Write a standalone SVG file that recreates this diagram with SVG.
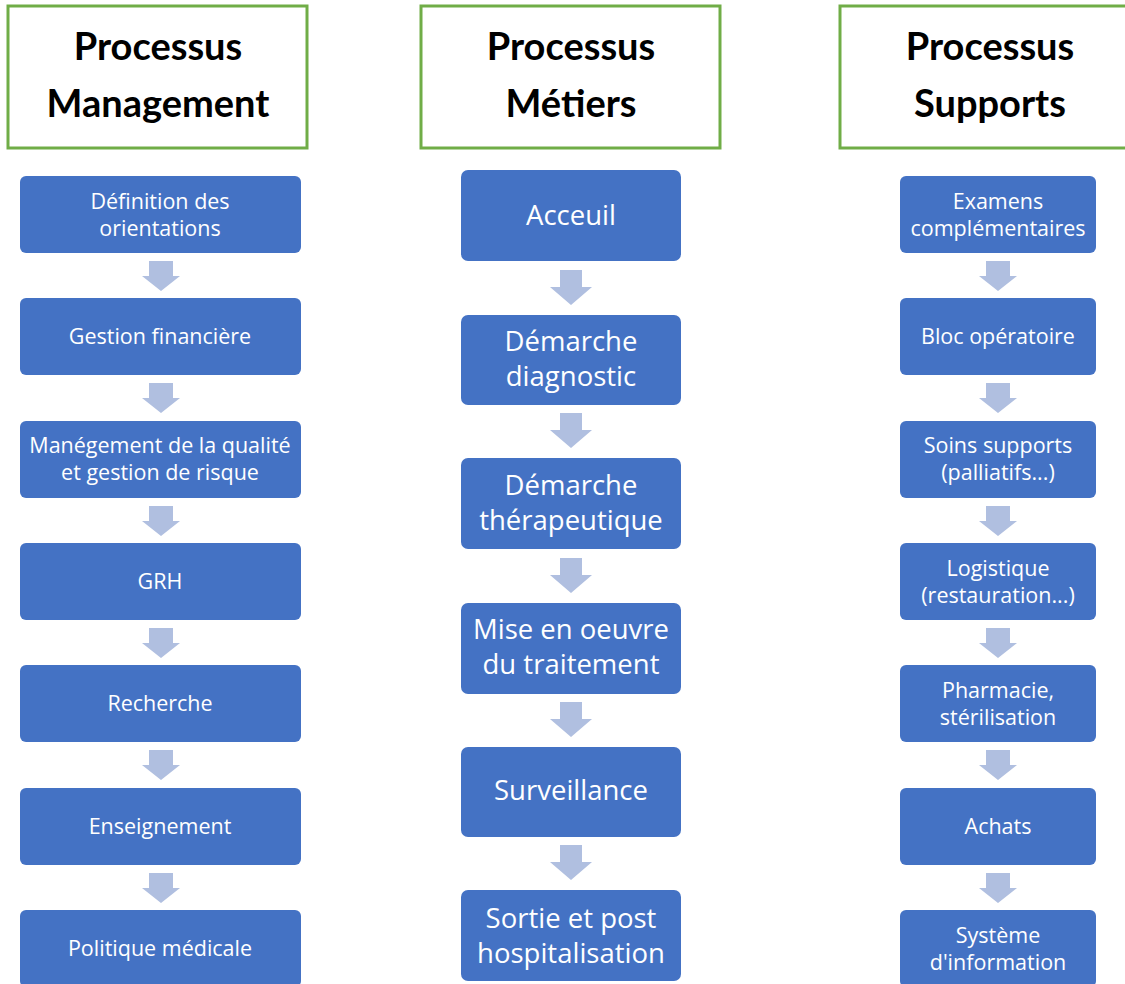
<svg xmlns="http://www.w3.org/2000/svg" width="1125" height="984" viewBox="0 0 1125 984">
<style>
.hdr{fill:#fff;stroke:#70AD47;stroke-width:3}
.ht{font-family:"Lato","Liberation Sans",sans-serif;font-weight:bold;font-size:38px;fill:#000;text-anchor:middle}
.box{fill:#4472C4}
.st{font-family:"Open Sans","Liberation Sans",sans-serif;font-size:21.5px;fill:#fff;text-anchor:middle}
.mt{font-family:"Open Sans","Liberation Sans",sans-serif;font-size:27.5px;fill:#fff;text-anchor:middle}
.arr{fill:#B0BFE0}
</style>
<defs>
<path id="a1" d="M-12,0 H12 V15 H19 L0,30 L-19,15 H-12 Z"/>
<path id="a2" d="M-11,0 H11 V17 H21 L0,35 L-21,17 H-11 Z"/>
</defs>
<rect width="1125" height="984" fill="#fff"/>
<g id="connectors">
<use href="#a1" class="arr" x="161" y="261"/>
<use href="#a1" class="arr" x="161" y="383"/>
<use href="#a1" class="arr" x="161" y="506"/>
<use href="#a1" class="arr" x="161" y="628"/>
<use href="#a1" class="arr" x="161" y="750"/>
<use href="#a1" class="arr" x="161" y="873"/>
<use href="#a2" class="arr" x="571" y="270"/>
<use href="#a2" class="arr" x="571" y="413"/>
<use href="#a2" class="arr" x="571" y="558"/>
<use href="#a2" class="arr" x="571" y="702"/>
<use href="#a2" class="arr" x="571" y="845"/>
<use href="#a1" class="arr" x="998" y="261"/>
<use href="#a1" class="arr" x="998" y="383"/>
<use href="#a1" class="arr" x="998" y="506"/>
<use href="#a1" class="arr" x="998" y="628"/>
<use href="#a1" class="arr" x="998" y="750"/>
<use href="#a1" class="arr" x="998" y="873"/>
</g>
<g id="h-management"><rect class="hdr" x="8" y="6" width="299" height="142"/><text class="ht" x="158" y="60">Processus</text><text class="ht" x="158" y="117">Management</text></g>
<g id="h-metiers"><rect class="hdr" x="421" y="6" width="299" height="142"/><text class="ht" x="571" y="60">Processus</text><text class="ht" x="571" y="117">Métiers</text></g>
<g id="h-supports"><rect class="hdr" x="840" y="6" width="300" height="142"/><text class="ht" x="990" y="60">Processus</text><text class="ht" x="990" y="117">Supports</text></g>

<g id="m1"><rect class="box" x="20" y="176" width="281" height="77" rx="6"/><text class="st" x="160" y="209">Définition des</text><text class="st" x="160" y="236">orientations</text></g>
<g id="m2"><rect class="box" x="20" y="298" width="281" height="77" rx="6"/><text class="st" x="160" y="344">Gestion financière</text></g>
<g id="m3"><rect class="box" x="20" y="421" width="281" height="77" rx="6"/><text class="st" x="160" y="453">Manégement de la qualité</text><text class="st" x="160" y="480">et gestion de risque</text></g>
<g id="m4"><rect class="box" x="20" y="543" width="281" height="77" rx="6"/><text class="st" x="160" y="589">GRH</text></g>
<g id="m5"><rect class="box" x="20" y="665" width="281" height="77" rx="6"/><text class="st" x="160" y="711">Recherche</text></g>
<g id="m6"><rect class="box" x="20" y="788" width="281" height="77" rx="6"/><text class="st" x="160" y="834">Enseignement</text></g>
<g id="m7"><rect class="box" x="20" y="910" width="281" height="77" rx="6"/><text class="st" x="160" y="956">Politique médicale</text></g>

<g id="p1"><rect class="box" x="461" y="170" width="220" height="91" rx="7"/><text class="mt" x="571" y="225">Acceuil</text></g>
<g id="p2"><rect class="box" x="461" y="315" width="220" height="90" rx="7"/><text class="mt" x="571" y="351">Démarche</text><text class="mt" x="571" y="386">diagnostic</text></g>
<g id="p3"><rect class="box" x="461" y="458" width="220" height="91" rx="7"/><text class="mt" x="571" y="495">Démarche</text><text class="mt" x="571" y="530">thérapeutique</text></g>
<g id="p4"><rect class="box" x="461" y="603" width="220" height="91" rx="7"/><text class="mt" x="571" y="639">Mise en oeuvre</text><text class="mt" x="571" y="674">du traitement</text></g>
<g id="p5"><rect class="box" x="461" y="747" width="220" height="90" rx="7"/><text class="mt" x="571" y="800">Surveillance</text></g>
<g id="p6"><rect class="box" x="461" y="890" width="220" height="91" rx="7"/><text class="mt" x="571" y="928">Sortie et post</text><text class="mt" x="571" y="963">hospitalisation</text></g>

<g id="s1"><rect class="box" x="900" y="176" width="196" height="77" rx="6"/><text class="st" x="998" y="209">Examens</text><text class="st" x="998" y="236">complémentaires</text></g>
<g id="s2"><rect class="box" x="900" y="298" width="196" height="77" rx="6"/><text class="st" x="998" y="344">Bloc opératoire</text></g>
<g id="s3"><rect class="box" x="900" y="421" width="196" height="77" rx="6"/><text class="st" x="998" y="453">Soins supports</text><text class="st" x="998" y="480">(palliatifs...)</text></g>
<g id="s4"><rect class="box" x="900" y="543" width="196" height="77" rx="6"/><text class="st" x="998" y="576">Logistique</text><text class="st" x="998" y="603">(restauration...)</text></g>
<g id="s5"><rect class="box" x="900" y="665" width="196" height="77" rx="6"/><text class="st" x="998" y="698">Pharmacie,</text><text class="st" x="998" y="725">stérilisation</text></g>
<g id="s6"><rect class="box" x="900" y="788" width="196" height="77" rx="6"/><text class="st" x="998" y="834">Achats</text></g>
<g id="s7"><rect class="box" x="900" y="910" width="196" height="77" rx="6"/><text class="st" x="998" y="943">Système</text><text class="st" x="998" y="970">d'information</text></g>
</svg>
